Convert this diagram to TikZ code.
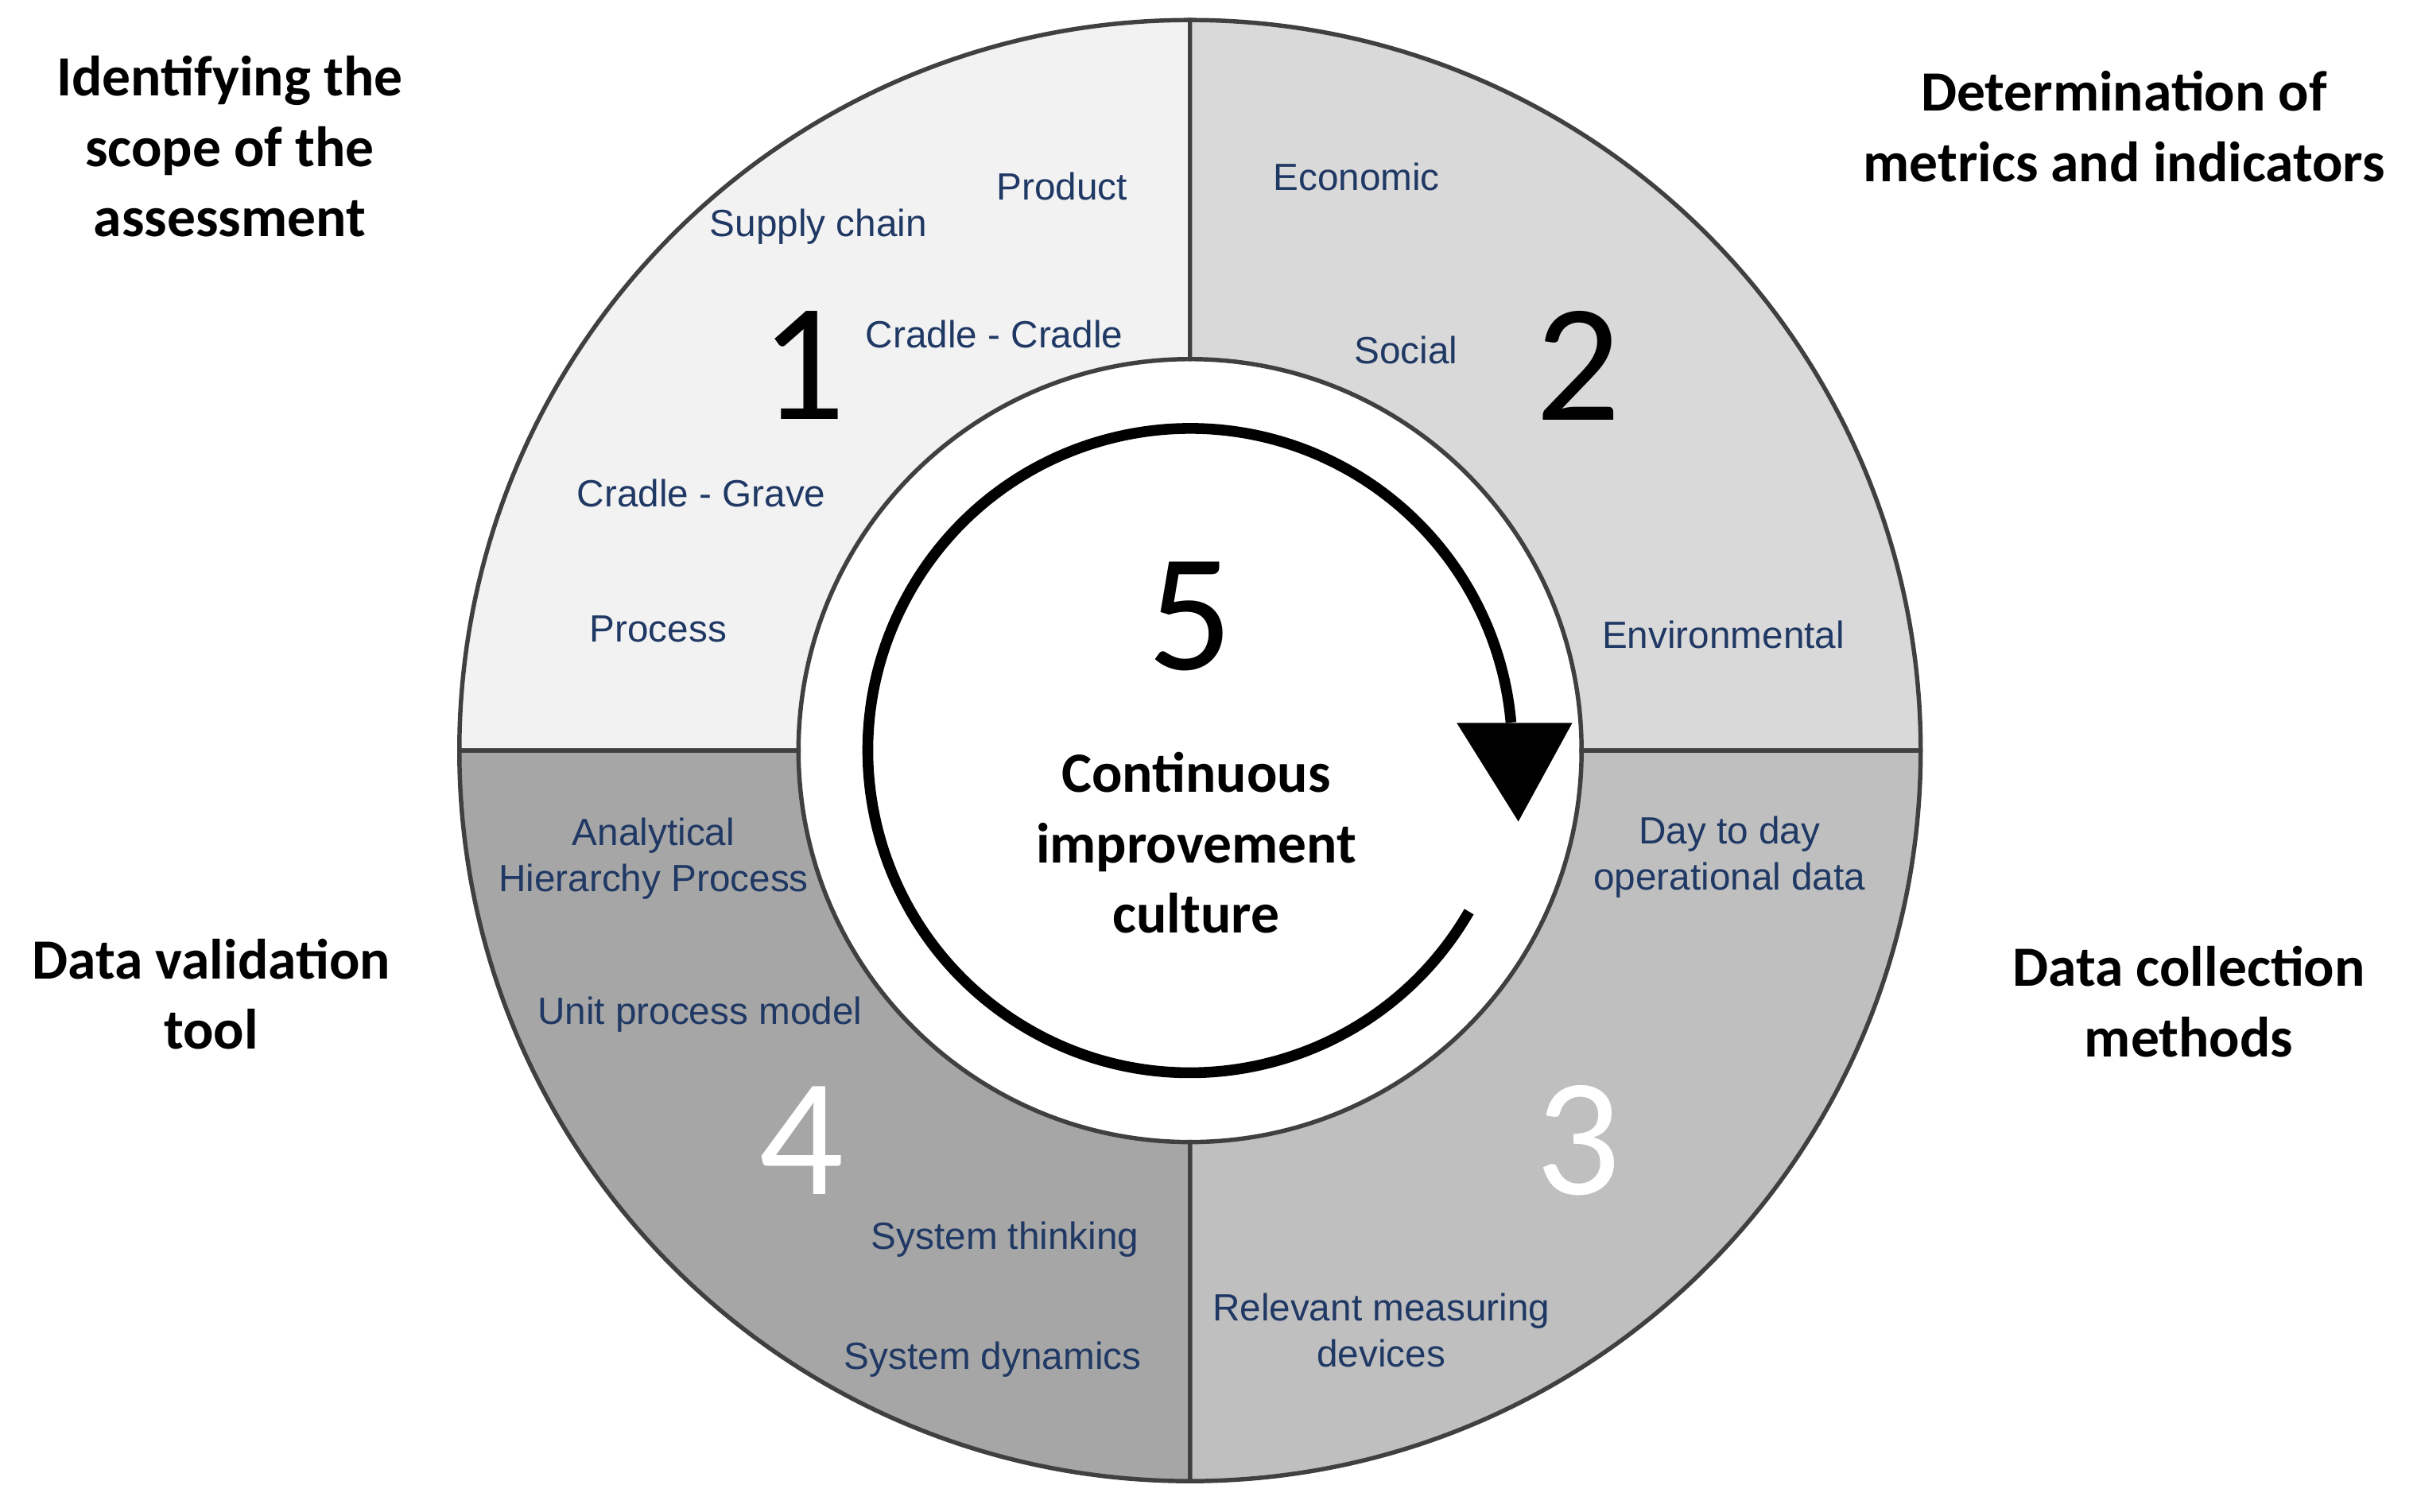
\documentclass[tikz,border=0pt]{standalone}
\usepackage{fontspec}
\setmainfont{Carlito}
\newfontfamily\lab{Liberation Sans}
\definecolor{qa}{HTML}{F2F2F2}
\definecolor{qb}{HTML}{D9D9D9}
\definecolor{qc}{HTML}{BFBFBF}
\definecolor{qd}{HTML}{A6A6A6}
\definecolor{navy}{HTML}{1F3864}
\definecolor{edge}{HTML}{404040}
\begin{document}
\begin{tikzpicture}
\useasboundingbox (0,0) rectangle (15.68,9.81);
\tikzset{lb/.style={font=\lab\fontsize{7}{8.5}\selectfont,text=navy,align=center,inner sep=0},
 hd/.style={font=\bfseries\fontsize{10.5}{13}\selectfont,align=center,inner sep=0},
 dg/.style={font=\fontsize{31}{31}\selectfont,inner sep=0},
 q/.style={draw=edge,line width=0.8pt}}
\coordinate (C) at (7.72,4.94);
\def\R{4.74}\def\r{2.54}
\fill[qa,q] (C) ++(90:\R) arc[start angle=90,end angle=180,radius=\R] -- ++(0:\R-\r) arc[start angle=180,end angle=90,radius=\r] -- cycle;
\fill[qb,q] (C) ++(0:\R) arc[start angle=0,end angle=90,radius=\R] -- ++(0,-\R+\r) arc[start angle=90,end angle=0,radius=\r] -- cycle;
\fill[qc,q] (C) ++(270:\R) arc[start angle=270,end angle=360,radius=\R] -- ++(-\R+\r,0) arc[start angle=360,end angle=270,radius=\r] -- cycle;
\fill[qd,q] (C) ++(180:\R) arc[start angle=180,end angle=270,radius=\R] -- ++(0,\R-\r) arc[start angle=270,end angle=180,radius=\r] -- cycle;
\draw[line width=0.07cm] (C) ++(-30:2.09) arc[start angle=-30,end angle=-355,radius=2.09];
\fill (9.45,5.12) -- (10.20,5.12) -- (9.85,4.48) -- cycle;
\node[lb] (p1) at (6.89,8.60) {Product};
\node[lb] (p2) at (5.31,8.34) {Supply chain};
\node[lb] (p3) at (6.45,7.64) {Cradle - Cradle};
\node[lb] (p4) at (4.55,6.61) {Cradle - Grave};
\node[lb] (p5) at (4.27,5.73) {Process};
\node[lb] (m1) at (8.80,8.66) {Economic};
\node[lb] (m2) at (9.12,7.54) {Social};
\node[lb] (m3) at (11.18,5.69) {Environmental};
\node[lb] (c1) at (11.22,4.25) {Day to day\\operational data};
\node[lb] (c2) at (8.96,1.18) {Relevant measuring\\devices};
\node[lb] (v1) at (4.24,4.24) {Analytical\\Hierarchy Process};
\node[lb] (v2) at (4.54,3.23) {Unit process model};
\node[lb] (v3) at (6.52,1.77) {System thinking};
\node[lb] (v4) at (6.44,0.99) {System dynamics};
\node[dg] (d1) at (5.21,7.44) {1};
\node[dg] (d2) at (10.24,7.44) {2};
\node[dg] (d5) at (7.72,5.81) {5};
\node[dg,text=white] (d4) at (5.20,2.41) {4};
\node[dg,text=white] (d3) at (10.24,2.41) {3};
\node[hd] (h1) at (1.49,8.86) {Identifying the\\scope of the\\assessment};
\node[hd] (h2) at (13.78,8.99) {Determination of\\metrics and indicators};
\node[hd] (h4) at (1.37,3.36) {Data validation\\tool};
\node[hd] (h3) at (14.20,3.31) {Data collection\\methods};
\node[hd] (h5) at (7.76,4.34) {Continuous\\improvement\\culture};
\end{tikzpicture}
\end{document}
